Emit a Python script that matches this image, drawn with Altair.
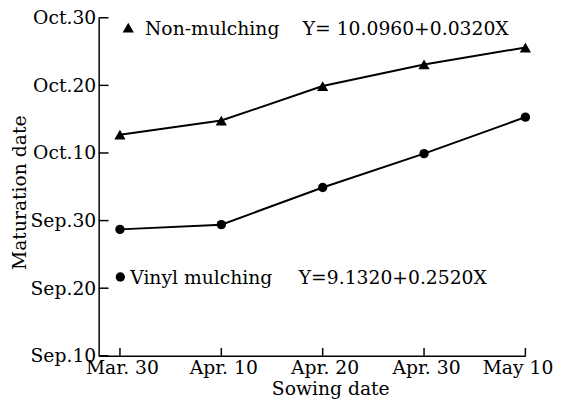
import altair as alt
import pandas as pd

# ---- data ----
sowing_labels = ["Mar. 30", "Apr. 10", "Apr. 20", "Apr. 30", "May 10"]
sowing_pos = [0, 1, 2, 3, 4]
non_mulching = [42.7, 44.8, 49.9, 53.1, 55.6]      # days after Aug 31 (Oct d = 30 + d)
vinyl_mulching = [28.7, 29.4, 34.9, 39.9, 45.3]
y_ticks = [10, 20, 30, 40, 50, 60]
y_labels = ["Sep.10", "Sep.20", "Sep.30", "Oct.10", "Oct.20", "Oct.30"]
series_names = ["Non-mulching", "Vinyl mulching"]
equations = ["Y= 10.0960+0.0320X", "Y=9.1320+0.2520X"]

W, H = 433, 343
FONT = "DejaVu Serif"
FS = 19

rows = []
for i, p in enumerate(sowing_pos):
    rows.append({"series": series_names[0], "x": p, "y": non_mulching[i]})
    rows.append({"series": series_names[1], "x": p, "y": vinyl_mulching[i]})
df = pd.DataFrame(rows)

xscale = alt.Scale(domain=[-0.21, 4], nice=False, zero=False)
yscale = alt.Scale(domain=[10, 60], nice=False, zero=False)
shape_scale = alt.Scale(domain=series_names, range=["triangle-up", "circle"])
size_scale = alt.Scale(domain=series_names, range=[130, 90])


def label_expr(values, labels):
    expr = "''"
    for v, l in zip(reversed(values), reversed(labels)):
        expr = f"datum.value == {v} ? '{l}' : ({expr})"
    return expr


x_axis = alt.Axis(
    values=sowing_pos, labelExpr=label_expr(sowing_pos, sowing_labels),
    ticks=False, tickSize=0, grid=False, labelPadding=3, labelBaseline="top",
    labelOverlap=False, labelBound=False, labelFlush=False,
    labelOffset={"condition": {"test": f"datum.value == {sowing_pos[-1]}", "value": -8},
                 "value": 2},
    title="Sowing date", titleX=235, titleY=39, titleBaseline="alphabetic",
    titleAlign="center",
)
y_axis = alt.Axis(
    values=y_ticks, labelExpr=label_expr(y_ticks, y_labels),
    ticks=False, tickSize=0, grid=False, labelPadding=3, labelBaseline="middle",
    labelOverlap=False, labelBound=False, labelFlush=False,
    title="Maturation date", titleX=-74, titleY=177, titleAngle=270,
    titleBaseline="alphabetic", titleAlign="center",
)


def X(field):
    return alt.X(field, scale=xscale, axis=x_axis)


def Y(field):
    return alt.Y(field, scale=yscale, axis=y_axis)


base = alt.Chart(df)

lines = base.mark_line(color="black", strokeWidth=2).encode(
    x=X("x:Q"), y=Y("y:Q"), detail="series:N",
)

points = base.mark_point(filled=True, color="black", opacity=1).encode(
    x=X("x:Q"), y=Y("y:Q"),
    shape=alt.Shape("series:N", scale=shape_scale, legend=None),
    size=alt.Size("series:N", scale=size_scale, legend=None),
)

# annotation table (legend-like labels inside the plot)
ann = pd.DataFrame({
    "series": series_names,
    "mx": [0.082, 0.004],
    "my": [58.54, 21.66],
    "tx": [0.247, 0.101],
    "ex": [1.803, 1.764],
    "ty": [57.52, 20.64],
    "name": series_names,
    "eq": equations,
})
ann_base = alt.Chart(ann)
ann_marks = ann_base.mark_point(filled=True, color="black", opacity=1).encode(
    x=X("mx:Q"), y=Y("my:Q"),
    shape=alt.Shape("series:N", scale=shape_scale, legend=None),
    size=alt.Size("series:N", scale=size_scale, legend=None),
)
ann_names = ann_base.mark_text(font=FONT, fontSize=FS, align="left",
                               baseline="alphabetic", color="black").encode(
    x=X("tx:Q"), y=Y("ty:Q"), text="name:N",
)
ann_eqs = ann_base.mark_text(font=FONT, fontSize=FS, align="left",
                             baseline="alphabetic", color="black").encode(
    x=X("ex:Q"), y=Y("ty:Q"), text="eq:N",
)

# inward tick marks
yt = pd.DataFrame({"v": y_ticks})
y_tick_rules = alt.Chart(yt).mark_rule(color="black", strokeWidth=1.5).encode(
    y=Y("v:Q"), x=alt.value(0), x2=alt.value(10),
)
xt = pd.DataFrame({"v": sowing_pos})
x_tick_rules = alt.Chart(xt).mark_rule(color="black", strokeWidth=1.5).encode(
    x=X("v:Q"), y=alt.value(H), y2=alt.value(H - 8),
)

chart = alt.layer(
    lines, points, ann_marks, ann_names, ann_eqs, y_tick_rules, x_tick_rules
).properties(
    width=W, height=H,
    autosize=alt.AutoSizeParams(type="none"),
    padding={"left": 92, "top": 7, "right": 28, "bottom": 47},
    background="white",
).configure_view(stroke=None).configure_axis(
    domainColor="black", domainWidth=1.5,
    labelFont=FONT, labelFontSize=FS, labelColor="black",
    titleFont=FONT, titleFontSize=FS, titleFontWeight="normal", titleColor="black",
)

chart.save("out.html", embed_options={"renderer": "svg", "actions": False})
